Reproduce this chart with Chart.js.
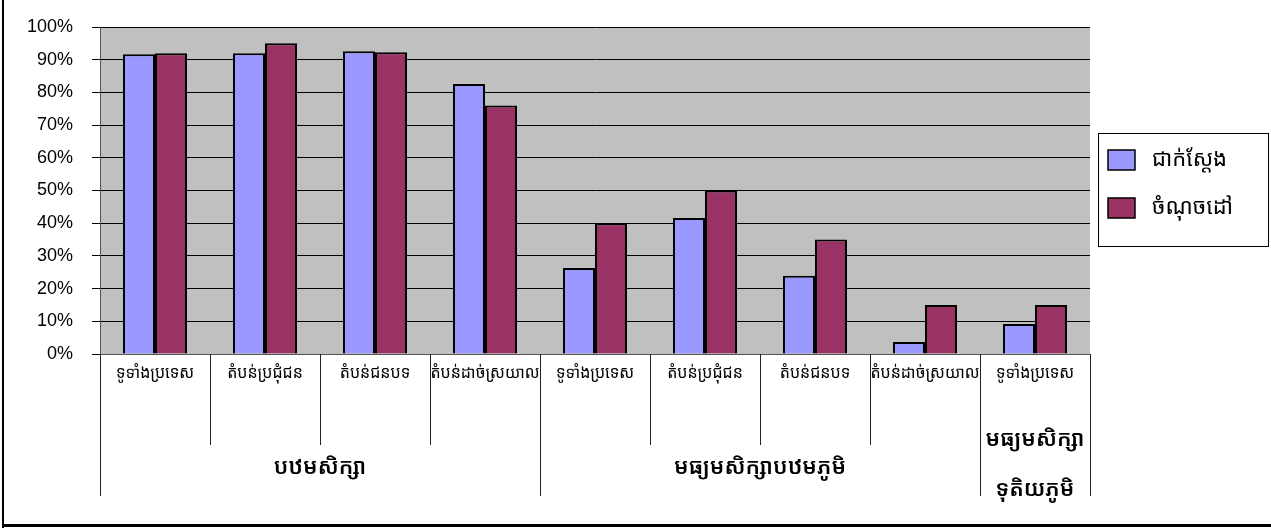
<!DOCTYPE html>
<html>
<head>
<meta charset="utf-8">
<script src="https://cdn.jsdelivr.net/npm/chart.js@4.4.1/dist/chart.umd.min.js"></script>
<style>
  html, body { margin: 0; padding: 0; background: #fff; }
  #wrap { width: 1271px; height: 528px; position: relative; }
</style>
</head>
<body>
<div id="wrap"><canvas id="chart" width="1271" height="528"></canvas></div>
<script>
const categories = [
  "ទូទាំងប្រទេស", "តំបន់ប្រជុំជន", "តំបន់ជនបទ", "តំបន់ដាច់ស្រយាល",
  "ទូទាំងប្រទេស", "តំបន់ប្រជុំជន", "តំបន់ជនបទ", "តំបន់ដាច់ស្រយាល",
  "ទូទាំងប្រទេស",
];
const groups = [["បឋមសិក្សា"], ["មធ្យមសិក្សាបឋមភូមិ"], ["មធ្យមសិក្សា", "ទុតិយភូមិ"]];
const groupSizes = [4, 4, 1];
const seriesNames = ["ជាក់ស្តែង", "ចំណុចដៅ"];
const actual = [91.7, 92, 92.6, 82.6, 26.3, 41.6, 23.9, 3.7, 9.2];
const target = [92, 95, 92.3, 76, 40, 50, 35, 15, 15];
const yTicks = [0, 10, 20, 30, 40, 50, 60, 70, 80, 90, 100];

const COLOR = { blue: "#9999FF", maroon: "#993366", plot: "#C0C0C0", black: "#000" };
const KHMER = "'Noto Sans Khmer', 'Khmer OS', 'Noto Sans', 'DejaVu Sans', sans-serif";

// grey plot area, axis dividers, group labels, legend box, frame
const decor = {
  id: "decor",
  beforeDraw(chart) {
    const { ctx, chartArea: a } = chart;
    ctx.save();
    ctx.fillStyle = COLOR.plot;
    ctx.fillRect(a.left, a.top, a.right - a.left, a.bottom - a.top);
    ctx.restore();
  },
  afterDraw(chart) {
    const { ctx, chartArea: a } = chart;
    const x = chart.scales.x;
    const half = (x.getPixelForValue(1) - x.getPixelForValue(0)) / 2;
    ctx.save();

    // dividers under the axis
    ctx.strokeStyle = "#222";
    ctx.lineWidth = 1;
    let idx = 0;
    const groupEdges = [0];
    groupSizes.forEach((n) => { idx += n; groupEdges.push(idx); });
    for (let i = 0; i <= categories.length; i++) {
      const px = Math.round(x.getPixelForValue(i) - half) + 0.5;
      const isGroup = groupEdges.includes(i);
      ctx.beginPath();
      ctx.moveTo(px, a.bottom);
      ctx.lineTo(px, isGroup ? a.bottom + 142 : a.bottom + 91);
      ctx.stroke();
    }

    // group labels
    ctx.fillStyle = COLOR.black;
    ctx.font = "600 22px " + KHMER;
    ctx.textAlign = "center";
    ctx.textBaseline = "middle";
    groups.forEach((lines, g) => {
      const s = x.getPixelForValue(groupEdges[g]) - half;
      const e = x.getPixelForValue(groupEdges[g + 1]) - half;
      const cx = (s + e) / 2;
      if (lines.length === 1) {
        ctx.fillText(lines[0], cx, a.bottom + 114);
      } else {
        ctx.fillText(lines[0], cx, a.bottom + 86);
        ctx.fillText(lines[1], cx, a.bottom + 136);
      }
    });

    // legend
    const lx = a.right + 8, ly = a.top + 106, lw = 170, lh = 113;
    ctx.strokeStyle = "#000";
    ctx.lineWidth = 1;
    ctx.strokeRect(lx + 0.5, ly + 0.5, lw, lh);
    ctx.textAlign = "left";
    ctx.font = "22px " + KHMER;
    chart.data.datasets.forEach((ds, i) => {
      const sy = ly + 17 + i * 48;
      ctx.fillStyle = ds.backgroundColor;
      ctx.fillRect(lx + 10, sy, 27, 20);
      ctx.lineWidth = 1.5;
      ctx.strokeRect(lx + 10, sy, 27, 20);
      ctx.fillStyle = COLOR.black;
      ctx.fillText(ds.label, lx + 54, sy + 10);
    });

    // outer frame (left and bottom edges)
    ctx.fillStyle = "#000";
    ctx.fillRect(2, 0, 2, chart.height);
    ctx.fillRect(2, chart.height - 4, chart.width, 3);
    ctx.restore();
  },
};

new Chart(document.getElementById("chart"), {
  type: "bar",
  data: {
    labels: categories,
    datasets: [
      {
        label: seriesNames[0],
        data: actual,
        backgroundColor: COLOR.blue,
        borderColor: COLOR.black,
        borderWidth: 2,
        categoryPercentage: 0.582,
        barPercentage: 1,
      },
      {
        label: seriesNames[1],
        data: target,
        backgroundColor: COLOR.maroon,
        borderColor: COLOR.black,
        borderWidth: 2,
        categoryPercentage: 0.582,
        barPercentage: 1,
      },
    ],
  },
  options: {
    responsive: false,
    animation: false,
    layout: { padding: { top: 27, right: 181, left: 0, bottom: 0 } },
    plugins: { legend: { display: false }, tooltip: { enabled: false } },
    scales: {
      y: {
        min: 0,
        max: 100,
        afterBuildTicks: (s) => { s.ticks = yTicks.map((v) => ({ value: v })); },
        afterFit: (s) => {
          s.width = 100;
          s.paddingTop = 0;
          s.paddingBottom = 0;
        },
        ticks: {
          callback: (v) => v + "%",
          color: COLOR.black,
          padding: 19,
          font: { family: "'Liberation Sans', Arial, sans-serif", size: 18 },
        },
        grid: { color: COLOR.black, tickLength: 8, tickColor: COLOR.black },
        border: { color: "#555", width: 1 },
      },
      x: {
        afterFit: (s) => { s.height = 174; },
        grid: { display: false },
        border: { color: "#555", width: 1 },
        ticks: {
          color: COLOR.black,
          padding: 2,
          maxRotation: 0,
          autoSkip: false,
          font: { family: KHMER, size: 16 },
        },
      },
    },
  },
  plugins: [decor],
});
</script>
</body>
</html>
